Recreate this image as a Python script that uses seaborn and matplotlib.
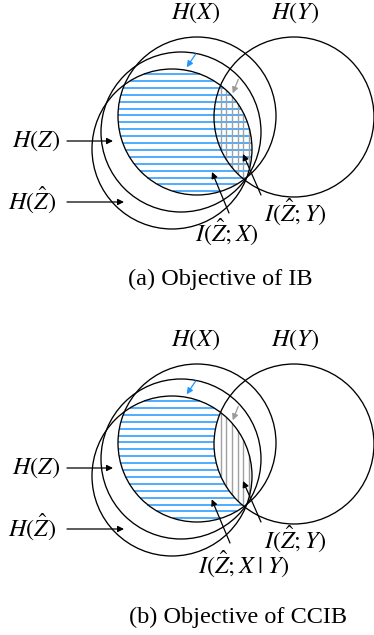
import numpy as np
import matplotlib
matplotlib.use("Agg")
import matplotlib.pyplot as plt
import seaborn as sns
from matplotlib.patches import Circle

# ---------------- data (pixel units, panel (a); panel (b) is shifted) ----------------
circle_names = ["H(X)", "H(Z)", "H(Zhat)", "H(Y)"]
circle_cx = [197, 181, 172, 294]
circle_cy = [116, 132, 149, 117]
circle_r = [79, 80, 80, 80]

panel_offsets = [0, 327]
panel_captions = ["(a) Objective of IB", "(b) Objective of CCIB"]
caption_x = [220, 238.5]
caption_y = [285, 623]

# labels: text, x, y(baseline) for panel (a) / (b)
labels_a = [r"$H(X)$", r"$H(Y)$", r"$H(Z)$", r"$H(\hat{Z})$", r"$I(\hat{Z};Y)$", r"$I(\hat{Z};X)$"]
labels_b = [r"$H(X)$", r"$H(Y)$", r"$H(Z)$", r"$H(\hat{Z})$", r"$I(\hat{Z};Y)$", r"$I(\hat{Z};X\;|\;Y)$"]
label_x_a = [196, 295, 36, 32, 295, 226.5]
label_y_a = [19, 19, 147, 208.5, 221, 241]
label_x_b = [196, 295, 36, 32, 295, 244]
label_y_b = [346, 346, 474, 535.5, 548, 573]

# arrows: (tail x, tail y, head x, head y), colour
arrow_tail_x = [67, 67, 229, 261, 195.7, 238.3]
arrow_tail_y = [141, 202, 213, 195, 54, 79.3]
arrow_head_x = [113, 124, 212, 243, 186.7, 232.7]
arrow_head_y = [141, 202, 172, 154, 67.3, 93.3]
arrow_colors = ["black", "black", "black", "black", "#1E96FF", "#9a9a9a"]

BLUE = "#1E96FF"
GREY = "#a0a0a0"

sns.set_theme(style="white")
plt.rcParams["mathtext.fontset"] = "stix"
plt.rcParams["font.family"] = ["Liberation Serif", "DejaVu Serif"]

fig = plt.figure(figsize=(3.74, 6.35), dpi=100)
ax = fig.add_axes([0, 0, 1, 1])
ax.set_xlim(0, 374)
ax.set_ylim(635, 0)
ax.set_axis_off()


def chord(c, r, t, other):
    d = r * r - (t - other) ** 2
    if d <= 0:
        return None
    s = np.sqrt(d)
    return c - s, c + s


hatch_ys = np.arange(74, 194, 6.9)
grey_xs = np.arange(220.7, 251, 5.7)
iX, iZh, iY = 0, 2, 3

for p, off in enumerate(panel_offsets):
    cx = np.array(circle_cx, float)
    cy = np.array(circle_cy, float) + off
    r = np.array(circle_r, float)
    # blue horizontal hatch inside H(X) ∩ H(Zhat)
    for y0 in hatch_ys + off:
        a = chord(cx[iX], r[iX], y0, cy[iX])
        b = chord(cx[iZh], r[iZh], y0, cy[iZh])
        if a is None or b is None:
            continue
        L, R = max(a[0], b[0]), min(a[1], b[1])
        if L >= R:
            continue
        if p == 1:
            yy = chord(cx[iY], r[iY], y0, cy[iY])
            if yy is not None:
                R = min(R, yy[0])
        if L < R:
            ax.hlines(y0, L, R, color=BLUE, lw=1.1, zorder=2)
    # grey vertical hatch inside H(X) ∩ H(Zhat) ∩ H(Y)
    for x0 in grey_xs:
        segs = [chord(cy[k], r[k], x0, cx[k]) for k in (iX, iZh, iY)]
        if any(s is None for s in segs):
            continue
        T = max(s[0] for s in segs)
        B = min(s[1] for s in segs)
        if T < B:
            ax.vlines(x0, T, B, color=GREY, lw=1.0, zorder=3)
    # circles
    for k in range(len(circle_names)):
        ax.add_patch(Circle((cx[k], cy[k]), r[k], fill=False, ec="black", lw=0.95, zorder=4))
    # labels
    labs = labels_a if p == 0 else labels_b
    lx = label_x_a if p == 0 else label_x_b
    ly = label_y_a if p == 0 else label_y_b
    for t, x, y in zip(labs, lx, ly):
        ax.text(x, y, t, ha="center", va="baseline", fontsize=17.5, color="black", zorder=6)
    # arrows
    for k in range(len(arrow_tail_x)):
        dy = off
        if p == 1 and k == 2:
            tail = (230, 543)
            head = (211.7, 499.3)
        else:
            tail = (arrow_tail_x[k], arrow_tail_y[k] + dy)
            head = (arrow_head_x[k], arrow_head_y[k] + dy)
        ax.annotate("", xy=head, xytext=tail,
                    arrowprops=dict(arrowstyle="-|>", color=arrow_colors[k], lw=0.9,
                                    mutation_scale=9, shrinkA=0, shrinkB=0),
                    zorder=5)
    # caption
    ax.text(caption_x[p], caption_y[p], panel_captions[p], ha="center", va="baseline",
            fontsize=17.5, color="black")

fig.savefig("out.png", dpi=100)
